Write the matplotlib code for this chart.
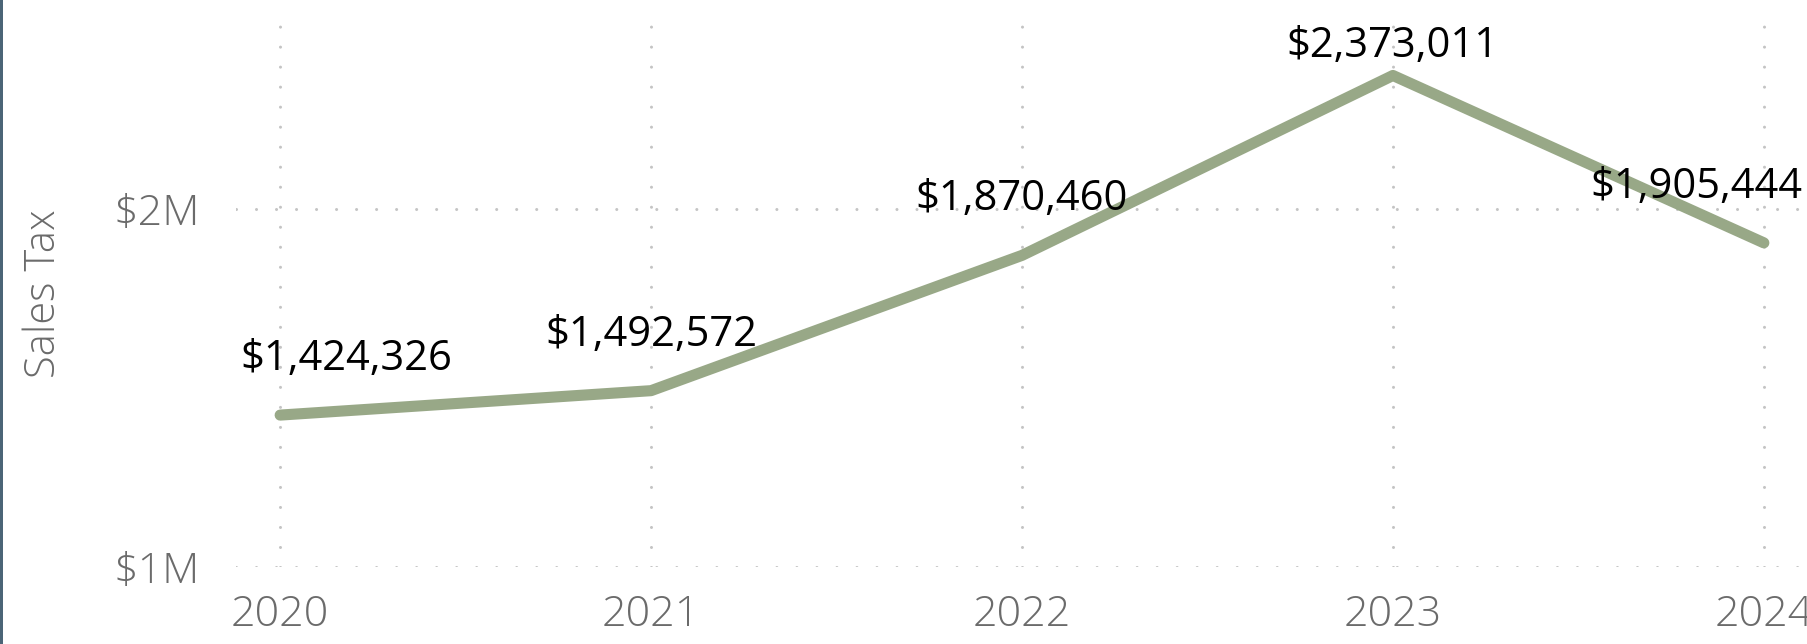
import numpy as np
import matplotlib
matplotlib.use("Agg")
import matplotlib.pyplot as plt
from matplotlib.patches import Rectangle
from matplotlib.ticker import FuncFormatter

# %% Data

years = [2020, 2021, 2022, 2023, 2024]
sales_tax = [1424326, 1492572, 1870460, 2373011, 1905444]
y_ticks = [1_000_000, 2_000_000]

# %% Style

line_color = "#98a887"
grid_color = "#c4c4c4"
tick_color = "#6b6b6b"
label_raise = 56  # px between point and label centre
plt.rcParams["font.family"] = ["Open Sans", "DejaVu Sans"]
plt.rcParams["lines.scale_dashes"] = False

# %% Figure

W, H, dpi = 1808, 644, 100
fig = plt.figure(figsize=(W / dpi, H / dpi), dpi=dpi)
ax = fig.add_axes([236 / W, 77 / H, 1 - 236 / W, (567 - 25) / H])

ax.plot(
    years,
    sales_tax,
    color=line_color,
    lw=8,
    solid_capstyle="round",
    solid_joinstyle="round",
    zorder=3,
    clip_on=False,
)

ax.set_xlim(2019.881, 2024.119)
ax.set_ylim(1_000_000, 2_514_000)
ax.set_xticks(years)
ax.set_yticks(y_ticks)
ax.yaxis.set_major_formatter(FuncFormatter(lambda v, _: f"${v / 1e6:.0f}M"))

dots = (0, (0.01, 14.4))
ax.grid(True, color=grid_color, lw=2.2, linestyle=dots, zorder=0)
for line in ax.get_xgridlines() + ax.get_ygridlines():
    line.set_dash_capstyle("round")

for s in ax.spines.values():
    s.set_visible(False)
ax.tick_params(length=0, labelsize=31, labelcolor=tick_color)
ax.tick_params(axis="y", pad=26)
ax.tick_params(axis="x", pad=19)
for lbl in ax.get_xticklabels() + ax.get_yticklabels():
    lbl.set_fontweight("light")

fig.text(
    44 / W, 1 - 294 / H, "Sales Tax",
    rotation=90, ha="center", va="center",
    fontsize=30, color=tick_color, fontweight="light",
)

# thin dark strip down the left edge
fig.add_artist(Rectangle((0, 0), 3 / W, 1, transform=fig.transFigure,
                         color="#4b6577", lw=0))

# %% Data labels, kept inside the figure

fig.canvas.draw()
renderer = fig.canvas.get_renderer()
ax_left = ax.get_window_extent(renderer).x0
for yr, val in zip(years, sales_tax):
    t = ax.annotate(
        f"${val:,.0f}", (yr, val), xytext=(0, 0), textcoords="offset pixels",
        ha="center", va="center", fontsize=30, color="black",
        zorder=5, annotation_clip=False,
    )
    bb = t.get_window_extent(renderer)
    px, py = ax.transData.transform((yr, val))
    cx = min(max(px, ax_left + 4 + bb.width / 2), W - 6 - bb.width / 2)
    cy = min(py + label_raise, H - 46)
    t.xyann = (cx - px, cy - py)

fig.savefig("out.png", dpi=dpi)
